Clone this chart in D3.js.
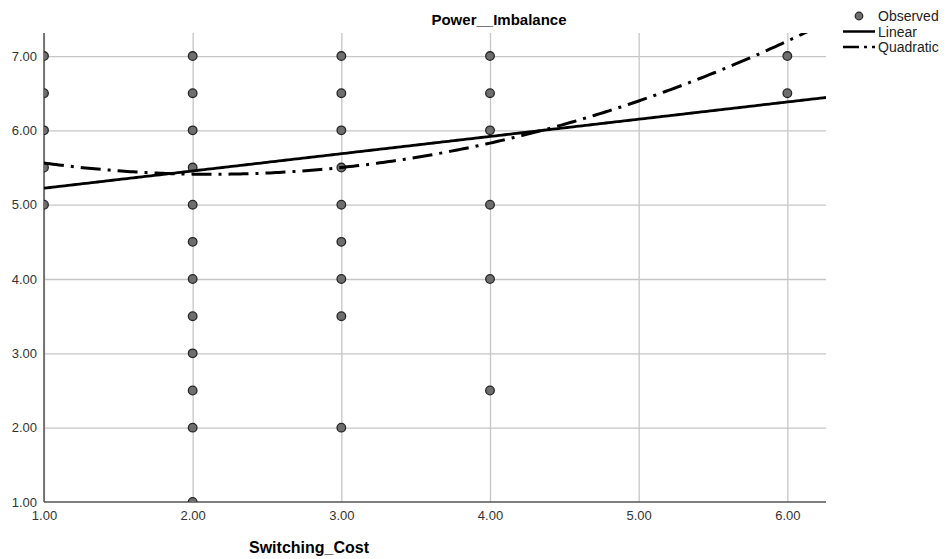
<!DOCTYPE html>
<html>
<head>
<meta charset="utf-8">
<script src="https://cdn.jsdelivr.net/npm/d3@7"></script>
<style>
  body { margin: 0; background: #fff; }
  svg { font-family: "Liberation Sans", Arial, sans-serif; }
</style>
</head>
<body>
<svg width="952" height="559"></svg>
<script>
// Observed values, grouped by Switching_Cost
const switchingCost = [1, 2, 3, 4, 6];
const powerImbalance = [
  [7, 6.5, 6, 5.5, 5],
  [7, 6.5, 6, 5.5, 5, 4.5, 4, 3.5, 3, 2.5, 2, 1],
  [7, 6.5, 6, 5.5, 5, 4.5, 4, 3.5, 2],
  [7, 6.5, 6, 5, 4, 2.5],
  [7, 6.5]
];

// fitted coefficients
const linearCoef = [4.99, 0.232];
const quadraticCoef = [5.948, -0.507, 0.1193];

const xTicks = [1, 2, 3, 4, 5, 6];
const yTicks = [1, 2, 3, 4, 5, 6, 7];
const legendLabels = ['Observed', 'Linear', 'Quadratic'];

const svg = d3.select('svg');

const plotLeft = 44, plotRight = 826, plotTop = 33, plotBottom = 502;

const x = d3.scaleLinear().domain([1, 6.26]).range([plotLeft, plotRight]);
const y = d3.scaleLinear().domain([1, 7.31]).range([plotBottom, plotTop]);

// clip for the plot area
svg.append('clipPath').attr('id', 'plot')
  .append('rect')
  .attr('x', plotLeft).attr('y', plotTop)
  .attr('width', plotRight - plotLeft).attr('height', plotBottom - plotTop);

// grid lines
svg.append('g')
  .attr('transform', `translate(0, ${plotBottom})`)
  .call(d3.axisBottom(x).tickValues(xTicks).tickSize(-(plotBottom - plotTop)).tickFormat(''))
  .call(g => g.select('.domain').remove())
  .call(g => g.selectAll('line').attr('stroke', '#c6c6c6').attr('stroke-width', 1.3));

svg.append('g')
  .attr('transform', `translate(${plotLeft}, 0)`)
  .call(d3.axisLeft(y).tickValues(yTicks.slice(1)).tickSize(-(plotRight - plotLeft)).tickFormat(''))
  .call(g => g.select('.domain').remove())
  .call(g => g.selectAll('line').attr('stroke', '#c6c6c6').attr('stroke-width', 1.3));

// axis lines
svg.append('line')
  .attr('x1', plotLeft).attr('x2', plotLeft).attr('y1', plotTop).attr('y2', plotBottom)
  .attr('stroke', '#555').attr('stroke-width', 1.5);
svg.append('line')
  .attr('x1', plotLeft).attr('x2', plotRight).attr('y1', plotBottom).attr('y2', plotBottom)
  .attr('stroke', '#555').attr('stroke-width', 1.5);

// tick labels
svg.append('g')
  .attr('transform', `translate(${plotLeft}, 0)`)
  .call(d3.axisLeft(y).tickValues(yTicks).tickSize(0).tickPadding(7).tickFormat(d3.format('.2f')))
  .call(g => g.select('.domain').remove())
  .call(g => g.selectAll('text').attr('font-size', 13).attr('fill', '#333')
    .attr('font-family', '"Liberation Sans", Arial, sans-serif'));

svg.append('g')
  .attr('transform', `translate(0, ${plotBottom})`)
  .call(d3.axisBottom(x).tickValues(xTicks).tickSize(0).tickPadding(9).tickFormat(d3.format('.2f')))
  .call(g => g.select('.domain').remove())
  .call(g => g.selectAll('text').attr('font-size', 13).attr('fill', '#333')
    .attr('font-family', '"Liberation Sans", Arial, sans-serif'));

const plot = svg.append('g').attr('clip-path', 'url(#plot)');

// observed points
const points = switchingCost.flatMap((c, i) => powerImbalance[i].map(v => ({ c, v })));
plot.selectAll('circle.obs')
  .data(points)
  .join('circle')
  .attr('class', 'obs')
  .attr('cx', d => x(d.c))
  .attr('cy', d => y(d.v))
  .attr('r', 4.3)
  .attr('fill', '#6e6e6e')
  .attr('stroke', '#262626')
  .attr('stroke-width', 1.3);

// fitted curves
const xs = d3.range(1, 6.27, 0.02);
const line = d3.line().x(d => x(d[0])).y(d => y(d[1]));

plot.append('path')
  .attr('d', line(xs.map(t => [t, linearCoef[0] + linearCoef[1] * t])))
  .attr('fill', 'none')
  .attr('stroke', '#000')
  .attr('stroke-width', 2.8);

plot.append('path')
  .attr('d', line(xs.map(t => [t, quadraticCoef[0] + quadraticCoef[1] * t + quadraticCoef[2] * t * t])))
  .attr('fill', 'none')
  .attr('stroke', '#000')
  .attr('stroke-width', 3)
  .attr('stroke-dasharray', '20,7,3,7');

// title
svg.append('text')
  .attr('x', 499).attr('y', 25)
  .attr('text-anchor', 'middle')
  .attr('font-size', 15).attr('font-weight', 'bold')
  .text('Power__Imbalance');

svg.append('text')
  .attr('x', 309).attr('y', 553)
  .attr('text-anchor', 'middle')
  .attr('font-size', 16).attr('font-weight', 'bold')
  .text('Switching_Cost');

// legend
const legend = svg.append('g');
const rowY = [16, 31.5, 47];

legend.append('circle')
  .attr('cx', 859).attr('cy', rowY[0]).attr('r', 3.8)
  .attr('fill', '#6e6e6e').attr('stroke', '#262626').attr('stroke-width', 1.2);
legend.append('line')
  .attr('x1', 843).attr('x2', 875).attr('y1', rowY[1]).attr('y2', rowY[1])
  .attr('stroke', '#000').attr('stroke-width', 2.5);
legend.append('line')
  .attr('x1', 843).attr('x2', 875).attr('y1', rowY[2]).attr('y2', rowY[2])
  .attr('stroke', '#000').attr('stroke-width', 2.5)
  .attr('stroke-dasharray', '16,5,3,5');

legend.selectAll('text')
  .data(legendLabels)
  .join('text')
  .attr('x', 878)
  .attr('y', (d, i) => rowY[i] + 5)
  .attr('font-size', 14)
  .attr('fill', '#222')
  .text(d => d);
</script>
</body>
</html>
